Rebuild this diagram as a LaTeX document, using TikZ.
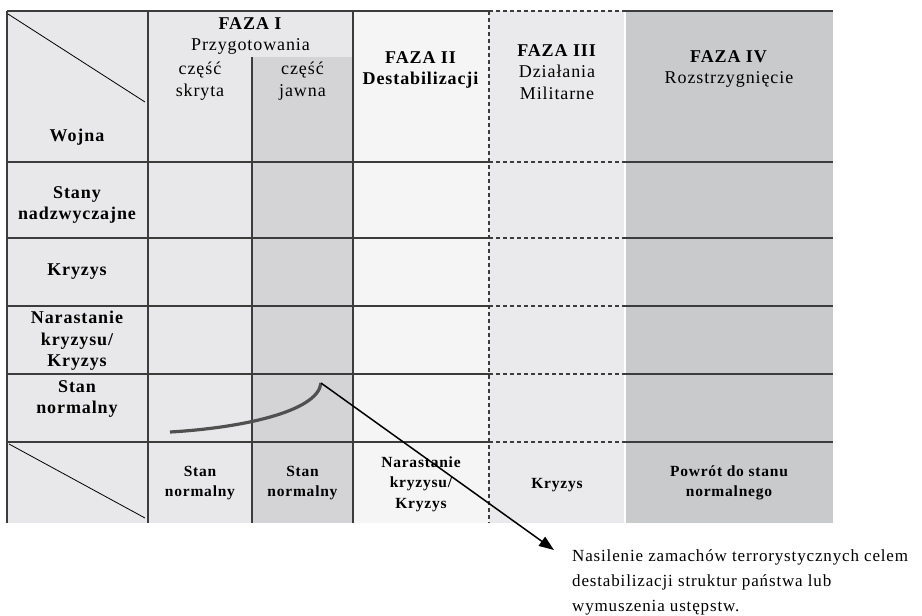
\documentclass[tikz,border=0pt]{standalone}
\usepackage{fontspec}
\setmainfont{Liberation Serif}[LetterSpace=5]
\usetikzlibrary{arrows.meta}
\definecolor{cellgray}{RGB}{232,232,234}
\definecolor{overtgray}{RGB}{212,212,214}
\definecolor{destgray}{RGB}{245,245,245}
\definecolor{militgray}{RGB}{234,234,236}
\definecolor{finalgray}{RGB}{201,202,204}
\definecolor{linegray}{RGB}{60,60,60}
\begin{document}
\begin{tikzpicture}[
  x=1pt, y=-1pt,
  rule/.style={draw=linegray, line width=1.4pt},
  dashrule/.style={draw=linegray, line width=1.1pt, dash pattern=on 4pt off 3pt},
  head/.style={align=center, font=\fontsize{18}{21.5}\selectfont},
  lbl/.style={align=center, font=\bfseries\fontsize{18}{21.5}\selectfont},
  foot/.style={align=center, font=\bfseries\fontsize{15.5}{20.5}\selectfont}
]
  \useasboundingbox (0,0) rectangle (922,616);
  \fill[cellgray] (7,11) rectangle (252,523);
  \fill[cellgray] (252,11) rectangle (353,57);
  \fill[overtgray] (252,57) rectangle (353,523);
  \fill[destgray] (353,11) rectangle (489,523);
  \fill[militgray] (489,11) rectangle (624,523);
  \fill[finalgray] (626,11) rectangle (833,523);
  \foreach \y in {11,162,238,306,374,442} {
    \draw[rule] (7,\y) -- (489,\y);
    \draw[dashrule] (489,\y) -- (625,\y);
    \draw[rule] (625,\y) -- (833,\y);
  }
  \foreach \x in {7,148,353}
    \draw[rule] (\x,11) -- (\x,523);
  \draw[rule] (252,57) -- (252,523);
  \draw[dashrule] (489,11) -- (489,523);
  \draw[line width=0.8pt] (8,14) -- (145,102);
  \draw[line width=0.8pt] (9,444) -- (145,518);

  \node[head] (phaseI) at (250.5,36) {\textbf{FAZA I}\\Przygotowania};
  \node[head] (covert) at (200,81) {część\\skryta};
  \node[head] (overt) at (302.5,81) {część\\jawna};
  \node[head] (phaseII) at (421,70) {\textbf{FAZA II}\\\textbf{Destabilizacji}};
  \node[head] (phaseIII) at (557,72) {\textbf{FAZA III}\\Działania\\Militarne};
  \node[head] (phaseIV) at (729,69) {\textbf{FAZA IV}\\Rozstrzygnięcie};

  \node[lbl] (war) at (77,137) {Wojna};
  \node[lbl] (emergency) at (77,205) {Stany\\nadzwyczajne};
  \node[lbl] (crisis) at (77,272) {Kryzys};
  \node[lbl] (escalation) at (77,341) {Narastanie\\kryzysu/\\Kryzys};
  \node[lbl] (normal) at (77,399) {Stan\\normalny};

  \node[foot] (covertstate) at (200,483) {Stan\\normalny};
  \node[foot] (overtstate) at (302.5,483) {Stan\\normalny};
  \node[foot] (deststate) at (421,484) {Narastanie\\kryzysu/\\Kryzys};
  \node[foot] (militstate) at (557,485) {Kryzys};
  \node[foot] (finalstate) at (729,483) {Powrót do stanu\\normalnego};

  \coordinate (start) at (170,432);
  \coordinate (peak) at (321,383);
  \coordinate (tip) at (554,550);
  \draw[line width=3.2pt, draw=linegray!90] (start) .. controls (240,428) and (318,412) .. (peak);
  \draw[line width=1.5pt, -{Triangle[length=15pt,width=11pt]}] (peak) -- (tip);
  \node[anchor=north west, align=left, inner sep=0pt,
        font=\fontsize{17}{25}\selectfont] (terror) at (572,549)
    {Nasilenie zamachów terrorystycznych celem\\destabilizacji struktur państwa lub\\wymuszenia ustępstw.};
\end{tikzpicture}
\end{document}
